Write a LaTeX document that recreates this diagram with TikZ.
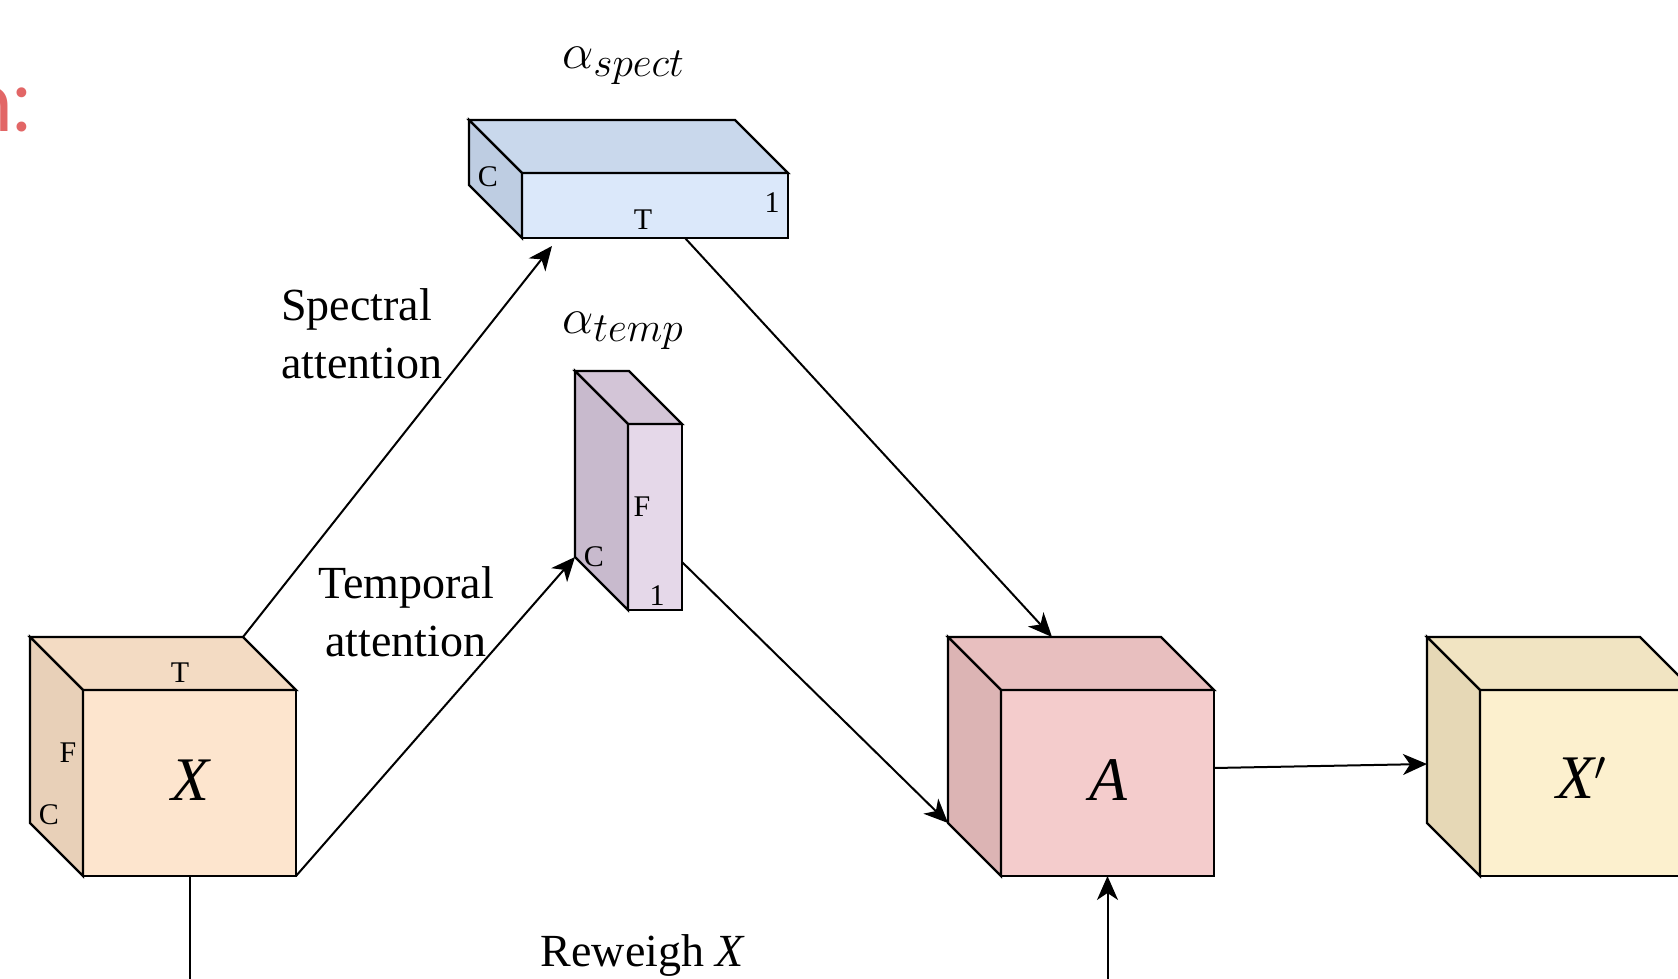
\documentclass[tikz,border=0pt]{standalone}
\usepackage{fontspec}
\setmainfont{Liberation Serif}
\newfontfamily\fragfont{Poppins}
\usetikzlibrary{arrows.meta}
\definecolor{xfront}{RGB}{253,229,206}
\definecolor{xtop}{RGB}{243,219,195}
\definecolor{xside}{RGB}{232,208,184}
\definecolor{afront}{RGB}{244,204,204}
\definecolor{atop}{RGB}{232,191,191}
\definecolor{aside}{RGB}{220,180,180}
\definecolor{xpfront}{RGB}{252,240,206}
\definecolor{xptop}{RGB}{241,228,194}
\definecolor{xpside}{RGB}{230,216,182}
\definecolor{sfront}{RGB}{219,232,250}
\definecolor{stop}{RGB}{201,216,236}
\definecolor{sside}{RGB}{190,205,226}
\definecolor{tfront}{RGB}{229,216,233}
\definecolor{ttop}{RGB}{211,197,215}
\definecolor{tside}{RGB}{200,186,205}
\definecolor{fragred}{RGB}{226,102,102}
% #1 name, #2 cx, #3 cy, #4 w, #5 h, #6 depth, #7 colour prefix
\newcommand\mycube[7]{%
  \node[cubeface, fill=#7front, minimum width=#4*0.5pt, minimum height=#5*0.5pt] (#1) at (#2,#3) {};
  \coordinate (#1-btl) at ([shift={(-#6,-#6)}]#1.north west);
  \coordinate (#1-btr) at ([shift={(-#6,-#6)}]#1.north east);
  \coordinate (#1-bbl) at ([shift={(-#6,-#6)}]#1.south west);
  \filldraw[cubeedge, fill=#7top] (#1.north west) -- (#1-btl) -- (#1-btr) -- (#1.north east) -- cycle;
  \filldraw[cubeedge, fill=#7side] (#1.north west) -- (#1-btl) -- (#1-bbl) -- (#1.south west) -- cycle;
}
\begin{document}
\begin{tikzpicture}[x=0.5pt,y=-0.5pt,
  cubeedge/.style={draw=black, line width=1.2pt, line join=miter},
  cubeface/.style={draw=black, line width=1.2pt, rectangle, inner sep=0pt, outer sep=0pt},
  arr/.style={-{Stealth[length=12pt,width=10.5pt,inset=3.5pt]}, line width=1pt},
  lbl/.style={font=\fontsize{15}{18}\selectfont, inner sep=0pt},
  biglbl/.style={font=\fontsize{31}{36}\selectfont\itshape, inner sep=0pt},
  txt/.style={font=\fontsize{23}{29}\selectfont, inner sep=0pt},
  title/.style={font=\fontsize{30}{36}\selectfont, inner sep=0pt, anchor=west}]
\useasboundingbox[fill=white] (0,0) rectangle (1678,979);

% fragment of red heading at left edge
\node[font=\fragfont\fontsize{40}{48}\selectfont, text=fragred, inner sep=0pt, anchor=base east] (frag) at (31,132) {n:};

% cubes
\mycube{X}{189.5}{783}{213}{186}{53}{x}
\mycube{A}{1107.5}{783}{213}{186}{53}{a}
\mycube{Xp}{1586.5}{783}{213}{186}{53}{xp}
\mycube{S}{655}{205.5}{266}{65}{53}{s}
\mycube{T}{655}{517}{54}{186}{53}{t}

% cube labels
\node[lbl] (xT) at (180,673) {T};
\node[lbl] (xF) at (68,753) {F};
\node[lbl] (xC) at (49,815) {C};
\node[biglbl] (xX) at (190,780) {X};
\node[biglbl] (aA) at (1108,780) {A};
\node[biglbl] (xpX) at (1582,778) {X$^{\prime}$};

\node[lbl] (sC) at (488,177) {C};
\node[lbl] (sT) at (643,220) {T};
\node[lbl] (s1) at (772,203) {1};

\node[lbl] (tF) at (642,507) {F};
\node[lbl] (tC) at (594,557) {C};
\node[lbl] (t1) at (657,596) {1};

% titles
\node[title] (aspect) at (562,66) {$\alpha_{spect}$};
\node[title] (atemp) at (562,331) {$\alpha_{temp}$};

% text labels
\node[txt, align=left, anchor=west] (spec) at (281,334) {Spectral\\attention};
\node[txt, align=center] (temp) at (406,612) {Temporal\\attention};
\node[txt] (rew) at (643,956) {Reweigh \textit{X}};

% connectors
\coordinate (sIn) at (552,246);
\draw[arr] (X-btr) -- (sIn);
\draw[arr] ([shift={(30,0)}]S.south) -- ([shift={(104,0)}]A-btl);
\draw[arr] (X.south east) -- (T-bbl);
\draw[arr] ([shift={(0,45)}]T.east) -- (A-bbl);
\draw[arr] ([shift={(0,-15)}]A.east) -- ([shift={(0,127)}]Xp-btl);
\draw[arr] (X.south) -- ++(0,140) -| (A.south);
\end{tikzpicture}
\end{document}
